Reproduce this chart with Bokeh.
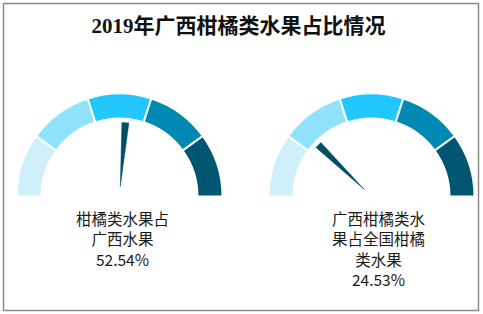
import math
from bokeh.plotting import figure
from bokeh.models import Range1d
from bokeh.core.properties import value
from bokeh.embed import file_html
from bokeh.resources import INLINE

# ---- data ----
title_text = "2019年广西柑橘类水果占比情况"
gauge_labels = [["柑橘类水果占", "广西水果"], ["广西柑橘类水", "果占全国柑橘", "类水果"]]
gauge_values = [52.54, 24.53]
gauge_min, gauge_max = 0, 100
band_colors = ["#CFF0FB", "#8FE1FC", "#22C8FD", "#0089B2", "#005670"]

W, H = 483, 314
p = figure(width=W, height=H, output_backend="svg", toolbar_location=None,
           x_range=Range1d(0, W), y_range=Range1d(0, H), min_border=0)
p.axis.visible = False
p.grid.visible = False
p.outline_line_color = None
p.background_fill_color = "white"

# outer frame
p.quad(left=[3], right=[478], bottom=[H - 310], top=[H - 3],
       fill_color=None, line_color="#8a8a8a", line_width=1.5)

# title
p.text(x=[238], y=[H - 25], text=[title_text], text_font=value("'Liberation Serif', 'Noto Sans CJK SC'"),
       text_font_size="21px", text_font_style="bold", text_align="center",
       text_baseline="middle", text_color="#111111")

centers = [(119, H - 196), (371, H - 196)]
label_x = [122, 378]
r_out, r_in = 103, 78
n = len(band_colors)

for (cx, cy), val, lines, lx in zip(centers, gauge_values, gauge_labels, label_x):
    starts = [math.pi - (i + 1) * math.pi / n for i in range(n)]
    ends = [math.pi - i * math.pi / n for i in range(n)]
    p.annular_wedge(x=[cx] * n, y=[cy] * n, inner_radius=r_in, outer_radius=r_out,
                    start_angle=starts, end_angle=ends, fill_color=band_colors,
                    line_color="white", line_width=2)
    frac = (val - gauge_min) / (gauge_max - gauge_min)
    a = math.pi * (1 - frac)
    ux, uy = math.cos(a), math.sin(a)
    px_, py_ = -uy, ux
    r0, r1, hw = 10, 74, 3.5
    xs = [cx + ux * r0, cx + ux * r1 + px_ * hw, cx + ux * r1 - px_ * hw]
    ys = [cy + uy * r0, cy + uy * r1 + py_ * hw, cy + uy * r1 - py_ * hw]
    p.patch(x=xs, y=ys, fill_color="#004E66", line_color="#004E66", line_width=0.5)
    all_lines = lines + [f"{val:.2f}%"]
    for k, t in enumerate(all_lines):
        p.text(x=[lx], y=[H - (217 + 20.5 * k)], text=[t],
               text_font=value("Noto Sans CJK SC"), text_font_size="15.5px",
               text_align="center", text_baseline="middle", text_color="#1a1a1a")

open("out.html", "w").write(file_html(p, INLINE))
